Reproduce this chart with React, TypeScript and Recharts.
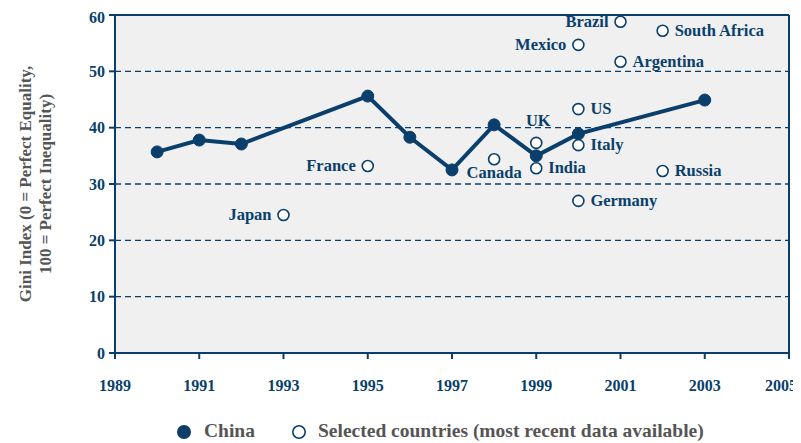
import React from "react";
import {
    ComposedChart,
    Line,
    Scatter,
    XAxis,
    YAxis,
    CartesianGrid,
    ReferenceLine,
} from "recharts";

const NAVY = "#0a3f6b";
const GREY = "#555555";
const FONT = "'Liberation Serif', 'Times New Roman', serif";

// China series
const chinaYears = [1990, 1991, 1992, 1995, 1996, 1997, 1998, 1999, 2000, 2003];
const chinaGini = [35.7, 37.8, 37.1, 45.6, 38.3, 32.5, 40.5, 35.0, 38.9, 44.9];

// selected countries, most recent data available
const countryNames = [
    "Brazil", "South Africa", "Mexico", "Argentina", "US", "UK", "Italy",
    "Canada", "India", "Russia", "Germany", "France", "Japan",
];
const countryYears = [2001, 2002, 2000, 2001, 2000, 1999, 2000, 1998, 1999, 2002, 2000, 1995, 1993];
const countryGini = [58.8, 57.2, 54.7, 51.7, 43.3, 37.3, 36.9, 34.4, 32.8, 32.3, 27.0, 33.2, 24.5];

const xTicks = [1989, 1991, 1993, 1995, 1997, 1999, 2001, 2003, 2005];
const yTicks = [0, 10, 20, 30, 40, 50, 60];

// where each country label sits relative to its marker
const labelSide: Record<string, "left" | "right" | "above" | "below"> = {
    Brazil: "left",
    "South Africa": "right",
    Mexico: "left",
    Argentina: "right",
    US: "right",
    UK: "above",
    Italy: "right",
    Canada: "below",
    India: "right",
    Russia: "right",
    Germany: "right",
    France: "left",
    Japan: "left",
};

const chinaData = chinaYears.map((year, i) => ({ year, gini: chinaGini[i] }));
const countryData = countryNames.map((name, i) => ({
    name,
    year: countryYears[i],
    gini: countryGini[i],
}));

const CountryDot = (props: any) => {
    const { cx, cy, payload } = props;
    const side = labelSide[payload.name];
    let dx = 12;
    let dy = 5;
    let anchor: "start" | "end" | "middle" = "start";
    if (side === "left") {
        dx = -12;
        anchor = "end";
    } else if (side === "above") {
        dx = 2;
        dy = -17;
        anchor = "middle";
    } else if (side === "below") {
        dx = 0;
        dy = 19;
        anchor = "middle";
    }
    return (
        <g>
            <circle cx={cx} cy={cy} r={5.5} fill="#ffffff" stroke={NAVY} strokeWidth={1.6} />
            <text
                x={cx + dx}
                y={cy + dy}
                textAnchor={anchor}
                fontFamily={FONT}
                fontWeight="bold"
                fontSize={16.5}
                fill={NAVY}
            >
                {payload.name}
            </text>
        </g>
    );
};

// last year label sits a little left so it fits the page edge
const YearTick = (props: any) => {
    const { x, y, payload } = props;
    const shift = payload.value === 2005 ? -4 : 0;
    return (
        <text
            x={x + shift}
            y={y}
            dy="0.71em"
            textAnchor="middle"
            fontFamily={FONT}
            fontWeight="bold"
            fontSize={16}
            fill={NAVY}
        >
            {payload.value}
        </text>
    );
};

const YLabel = (props: any) => {
    const { viewBox } = props;
    const cy = viewBox.y + viewBox.height / 2;
    const common = {
        textAnchor: "middle" as const,
        fontFamily: FONT,
        fontWeight: "bold",
        fontSize: 17,
        fill: GREY,
    };
    return (
        <g>
            <text {...common} x={0} y={0} transform={`translate(23, ${cy}) rotate(-90)`}>
                Gini Index (0 = Perfect Equality,
            </text>
            <text {...common} x={0} y={0} transform={`translate(43, ${cy}) rotate(-90)`}>
                100 = Perfect Inequality)
            </text>
        </g>
    );
};

export default function App() {
    return (
        <div style={{ position: "relative", width: 793, height: 435 }}>
            <ComposedChart
                width={793}
                height={435}
                margin={{ top: 7, right: 12, bottom: 0, left: 0 }}
            >
                <CartesianGrid
                    vertical={false}
                    fill="#f0f0f0"
                    stroke={NAVY}
                    strokeWidth={1.3}
                    strokeDasharray="6 4"
                />
                <XAxis
                    type="number"
                    dataKey="year"
                    domain={[1989, 2005]}
                    ticks={xTicks}
                    allowDataOverflow
                    height={90}
                    stroke={NAVY}
                    strokeWidth={2}
                    tickSize={6}
                    tickMargin={21}
                    tick={<YearTick />}
                />
                <YAxis
                    type="number"
                    dataKey="gini"
                    domain={[0, 60]}
                    ticks={yTicks}
                    width={107}
                    stroke={NAVY}
                    strokeWidth={2}
                    tickSize={6}
                    tickMargin={4}
                    tick={{ fill: NAVY, fontFamily: FONT, fontWeight: "bold", fontSize: 16 }}
                    label={{ content: YLabel }}
                />
                <ReferenceLine y={60} stroke={NAVY} strokeWidth={2} />
                <ReferenceLine x={2005} stroke={NAVY} strokeWidth={2} />
                <Line
                    data={chinaData}
                    dataKey="gini"
                    type="linear"
                    stroke={NAVY}
                    strokeWidth={4}
                    dot={{ r: 6, fill: NAVY, stroke: NAVY, strokeWidth: 1 }}
                    activeDot={false}
                    isAnimationActive={false}
                />
                <Scatter
                    data={countryData}
                    dataKey="gini"
                    shape={CountryDot}
                    isAnimationActive={false}
                />
            </ComposedChart>
            <div
                style={{
                    position: "absolute",
                    top: 412,
                    left: 0,
                    width: 793,
                    height: 24,
                    fontFamily: FONT,
                    fontWeight: "bold",
                    fontSize: 19.5,
                    color: GREY,
                    whiteSpace: "nowrap",
                }}
            >
                <svg
                    width={16}
                    height={16}
                    style={{ position: "absolute", left: 168, top: 4 }}
                >
                    <circle cx={8} cy={8} r={7} fill={NAVY} />
                </svg>
                <span style={{ position: "absolute", left: 196, top: 0 }}>China</span>
                <svg
                    width={16}
                    height={16}
                    style={{ position: "absolute", left: 283, top: 4 }}
                >
                    <circle cx={8} cy={8} r={6.2} fill="#ffffff" stroke={NAVY} strokeWidth={1.6} />
                </svg>
                <span style={{ position: "absolute", left: 310, top: 0 }}>
                    Selected countries (most recent data available)
                </span>
            </div>
        </div>
    );
}
